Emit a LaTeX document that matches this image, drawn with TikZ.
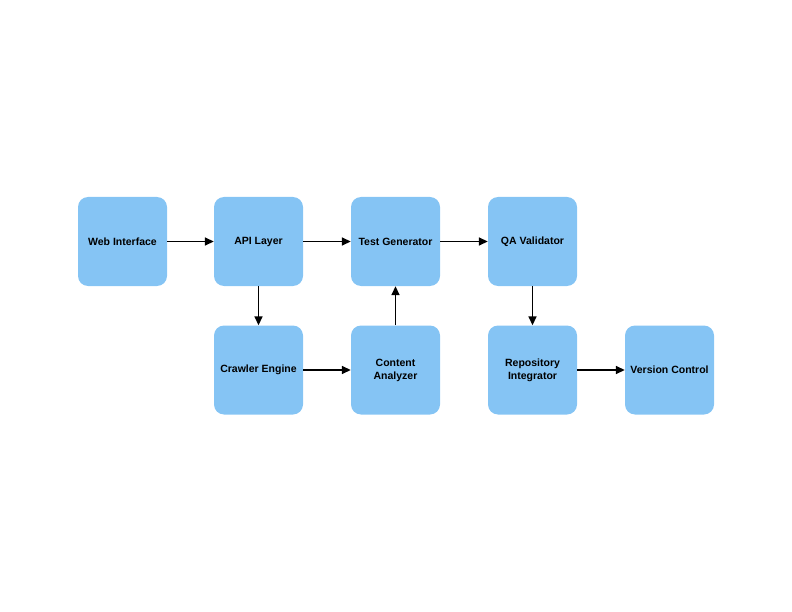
\documentclass[tikz,border=0pt]{standalone}
\usepackage{fontspec}
\setmainfont{Liberation Sans}
\usetikzlibrary{arrows.meta}
\definecolor{boxblue}{HTML}{85C4F4}
\begin{document}
\begin{tikzpicture}[x=1pt,y=-1pt]
\tikzstyle{every node}+=[inner sep=0pt]
\tikzstyle{block}=[fill=boxblue,rounded corners=10pt,minimum width=89pt,minimum height=89pt,align=center,font=\fontsize{10.5}{13}\selectfont\bfseries]
\tikzstyle{flow}=[black,line width=1.6pt,-{Triangle[length=9pt,width=8pt]}]
\useasboundingbox (0,0) rectangle (792,612);
\node [block] (web) at (122.5,241.5) {Web Interface};
\node [block] (api) at (258.5,241.5) {API Layer};
\node [block] (testgen) at (395.5,241.5) {Test Generator};
\node [block] (qa) at (532.5,241.5) {QA Validator};
\node [block] (crawler) at (258.5,370) {Crawler Engine};
\node [block] (content) at (395.5,370) {Content\\Analyzer};
\node [block] (repo) at (532.5,370) {Repository\\Integrator};
\node [block] (version) at (669.5,370) {Version Control};
\draw [flow] (web) -- (api);
\draw [flow] (api) -- (testgen);
\draw [flow] (testgen) -- (qa);
\draw [flow] (api) -- (crawler);
\draw [flow] (crawler) -- (content);
\draw [flow] (content) -- (testgen);
\draw [flow] (qa) -- (repo);
\draw [flow] (repo) -- (version);
\end{tikzpicture}
\end{document}
